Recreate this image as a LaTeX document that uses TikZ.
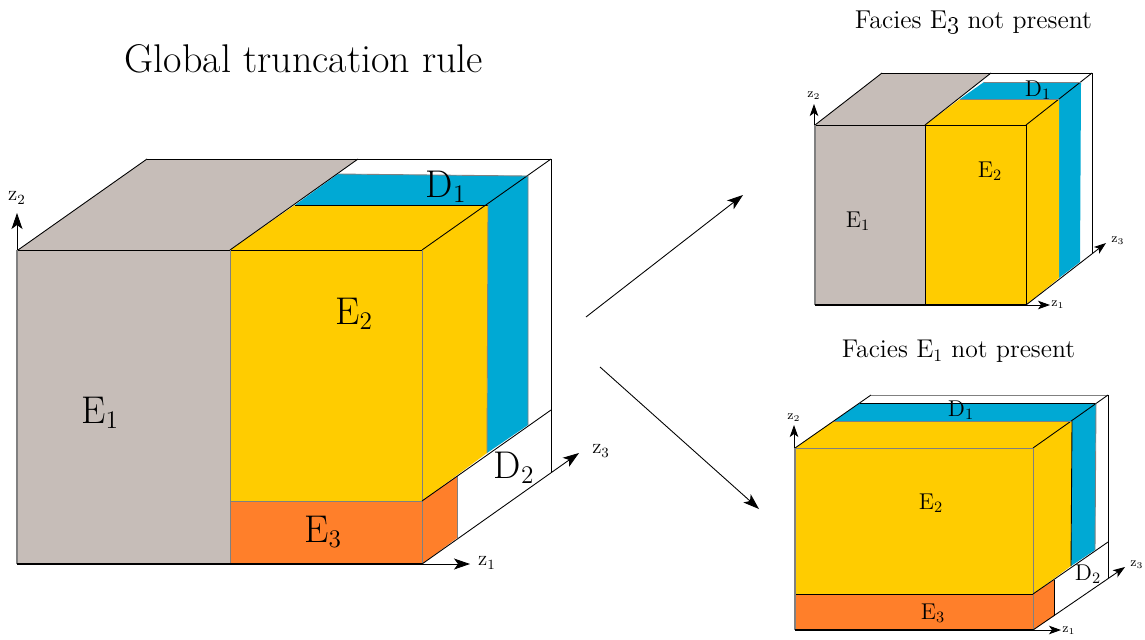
\documentclass[tikz,border=0pt]{standalone}
\usepackage{amsmath}
\usetikzlibrary{arrows.meta}
\definecolor{faciesgray}{HTML}{C6BDB8}
\definecolor{faciesyellow}{HTML}{FFCC00}
\definecolor{faciesblue}{HTML}{00A9D4}
\definecolor{faciesorange}{HTML}{FF7F2A}
\newcommand{\sizedtext}[1]{\fontsize{#1}{#1}\selectfont}
\begin{document}
\begin{tikzpicture}[x=0.02cm, y=-0.02cm, >={Stealth[length=3.2mm,width=2.2mm,inset=0.8mm]},
	edge/.style={draw=black, line width=0.5pt},
	soft/.style={draw=black!50, line width=0.5pt},
	axis/.style={->, line width=0.5pt},
	bigfacies/.style={font=\sizedtext{22}},
	midfacies/.style={font=\sizedtext{13}},
	bigz/.style={font=\sizedtext{12}},
	smallz/.style={font=\sizedtext{7.5}},
	smallaxis/.style={->, >={Stealth[length=2.4mm,width=1.7mm,inset=0.6mm]}, line width=0.5pt}]
	\useasboundingbox (0,0) rectangle (1145,639);
	% main block
	\fill[faciesgray] (18,250) -- (147,159) -- (358,159) -- (230,250) -- (230,564) -- (17,564) -- cycle;
	\fill[faciesblue] (295,205) -- (338,174) -- (528,176) -- (528,425) -- (487,453) -- (488,205) -- cycle;
	\fill[faciesyellow] (230,250) -- (295,205) -- (488,205) -- (487,453) -- (422,501) -- (230,501) -- cycle;
	\fill[faciesorange] (230,501) -- (422,501) -- (457,476) -- (457,538) -- (422,564) -- (230,564) -- cycle;
	\draw[edge] (147,159) -- (551,159) -- (551,472);
	\draw[edge] (18,250) -- (147,159);
	\draw[edge] (358,159) -- (230,250);
	\draw[edge] (18,250) -- (422,250);
	\draw[edge] (551,159) -- (422,250);
	\draw[edge] (295,205) -- (488,205);
	\draw[soft] (338,174) -- (528,176) -- (528,425);
	\draw[soft] (488,205) -- (487,453);
	\draw[soft, line width=0.9pt] (17,250) -- (17,564);
	\draw[soft] (230,250) -- (230,564);
	\draw[soft] (422,250) -- (422,564);
	\draw[soft] (230,501) -- (422,501);
	\draw[soft] (457,476) -- (457,538);
	\draw[edge] (422,501) -- (551,410);
	\draw[line width=0.9pt] (17,564) -- (422,564);
	\coordinate (mainorigin) at (422,564);
	\coordinate (mainztop) at (17,250);
	\coordinate (mainztip) at (17,213);
	\coordinate (mainxtip) at (470,564);
	\coordinate (mainytip) at (579,453);
	\draw[axis] (mainztop) -- (mainztip);
	\draw[axis] (mainorigin) -- (mainxtip);
	\draw[axis] (mainorigin) -- (mainytip);
	\node[bigz] (mainzb) at (17,198) {z$_2$};
	\node[bigz] (mainza) at (487,563) {z$_1$};
	\node[bigz] (mainzc) at (601,451) {z$_3$};
	\node[bigfacies] (maineone) at (100,413) {E$_1$};
	\node[bigfacies] (maineetwo) at (354,314) {E$_2$};
	\node[bigfacies] (maineethree) at (323,532) {E$_3$};
	\node[bigfacies] (maindone) at (446,187) {D$_1$};
	\node[bigfacies] (maindtwo) at (514,468) {D$_2$};
	\node[font=\sizedtext{22.8}] (maintitle) at (304,59) {Global truncation rule};
	% upper block
	\fill[faciesgray] (815,125) -- (882,73) -- (991,73) -- (925,125) -- (925,305) -- (815,305) -- cycle;
	\fill[faciesblue] (960,99) -- (984,82) -- (1081,82) -- (1080,262) -- (1059,278) -- (1059,99) -- cycle;
	\fill[faciesyellow] (925,125) -- (960,99) -- (1059,99) -- (1059,278) -- (1026,305) -- (925,305) -- cycle;
	\draw[edge] (882,73) -- (1092,73) -- (1092,253);
	\draw[edge] (815,125) -- (882,73);
	\draw[edge] (991,73) -- (925,125);
	\draw[edge] (1092,73) -- (1026,125);
	\draw[edge] (815,125) -- (1026,125) -- (1026,305);
	\draw[edge] (925,125) -- (925,305);
	\draw[soft] (984,82) -- (1081,82);
	\draw[soft] (960,99) -- (1059,99);
	\draw[soft, line width=0.9pt] (815,125) -- (815,305);
	\draw[line width=0.8pt] (815,305) -- (1026,305);
	\coordinate (uporigin) at (1026,305);
	\coordinate (upztop) at (814,125);
	\coordinate (upztip) at (814,104);
	\coordinate (upxtip) at (1050,305);
	\coordinate (upytip) at (1106,243);
	\draw[smallaxis] (upztop) -- (upztip);
	\draw[smallaxis] (uporigin) -- (upxtip);
	\draw[smallaxis] (uporigin) -- (upytip);
	\node[smallz] (upzb) at (814,96) {z$_2$};
	\node[smallz] (upza) at (1058,305) {z$_1$};
	\node[smallz] (upzc) at (1118,241) {z$_3$};
	\node[midfacies] (upeone) at (858,221) {E$_1$};
	\node[midfacies] (upetwo) at (990,171) {E$_2$};
	\node[midfacies] (updone) at (1038,90) {D$_1$};
	\node[font=\sizedtext{14.7}] (uptitle) at (973.5,22) {Facies E\oldstylenums{3} not present};
	% lower block
	\fill[faciesblue] (795,448) -- (860,403) -- (1096,403) -- (1095,550) -- (1071,566) -- (1072,421) -- cycle;
	\fill[faciesyellow] (795,448) -- (834,421) -- (1072,421) -- (1071,566) -- (1033,594) -- (795,594) -- cycle;
	\fill[faciesorange] (795,594) -- (1033,594) -- (1054,580) -- (1054,616) -- (1033,630) -- (795,630) -- cycle;
	\draw[edge] (795,448) -- (871,395);
	\draw[soft] (871,395) -- (1108,395);
	\draw[edge] (1108,395) -- (1108,578);
	\draw[edge] (1108,395) -- (1033,448);
	\draw[edge] (860,403) -- (1096,403);
	\draw[soft] (1096,403) -- (1095,550);
	\draw[soft] (795,448) -- (1033,448) -- (1033,630);
	\draw[soft] (834,421) -- (1072,421);
	\draw[edge] (1072,421) -- (1071,566);
	\draw[edge] (795,594) -- (1033,594);
	\draw[edge] (1033,594) -- (1108,542);
	\draw[edge] (1054,580) -- (1054,616);
	\draw[soft, line width=0.9pt] (795,448) -- (795,630);
	\draw[line width=0.8pt] (795,630) -- (1033,630);
	\coordinate (loworigin) at (1033,630);
	\coordinate (lowztop) at (794,448);
	\coordinate (lowztip) at (794,425);
	\coordinate (lowxtip) at (1061,630);
	\coordinate (lowytip) at (1125,567);
	\draw[smallaxis] (lowztop) -- (lowztip);
	\draw[smallaxis] (loworigin) -- (lowxtip);
	\draw[smallaxis] (loworigin) -- (lowytip);
	\node[smallz] (lowzb) at (794,418) {z$_2$};
	\node[smallz] (lowza) at (1069,631) {z$_1$};
	\node[smallz] (lowzc) at (1137,565) {z$_3$};
	\node[midfacies] (lowetwo) at (931,503) {E$_2$};
	\node[midfacies] (loweethree) at (933,613) {E$_3$};
	\node[midfacies] (lowdone) at (961,410) {D$_1$};
	\node[midfacies] (lowdtwo) at (1088,574) {D$_2$};
	\node[font=\sizedtext{14.6}] (lowtitle) at (958.5,351) {Facies E$_1$ not present};
	% arrows between the blocks
	\coordinate (startup) at (586,317);
	\coordinate (endup) at (743,195);
	\coordinate (startlow) at (600,367);
	\coordinate (endlow) at (759,509);
	\draw[axis] (startup) -- (endup);
	\draw[axis] (startlow) -- (endlow);
\end{tikzpicture}
\end{document}
